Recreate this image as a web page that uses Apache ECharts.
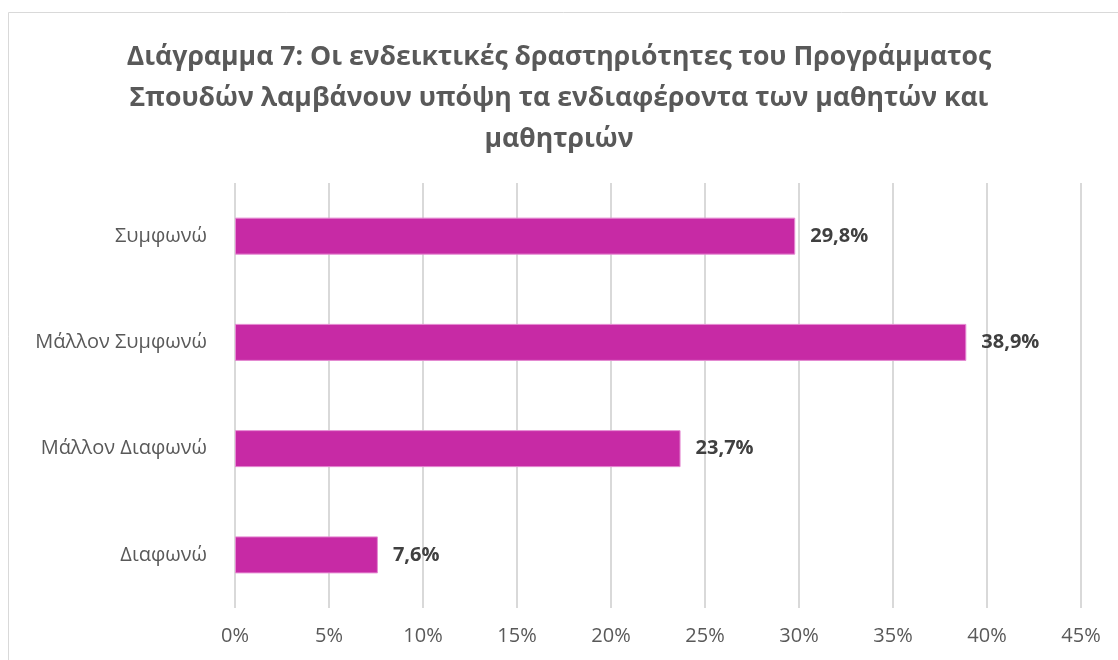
<!DOCTYPE html>
<html><head><meta charset="utf-8">
<script src="https://cdn.jsdelivr.net/npm/echarts@6/dist/echarts.min.js"></script>
<style>html,body{margin:0;padding:0;background:#fff}#c{width:1118px;height:660px}</style>
</head><body><div id="c"></div>
<script>
const titleText = 'Διάγραμμα 7: Οι ενδεικτικές δραστηριότητες του Προγράμματος\nΣπουδών λαμβάνουν υπόψη τα ενδιαφέροντα των μαθητών και\nμαθητριών';
const categories = ['Συμφωνώ', 'Μάλλον Συμφωνώ', 'Μάλλον Διαφωνώ', 'Διαφωνώ'];
const values = [29.8, 38.9, 23.7, 7.6];
const FONT = 'Open Sans';
const chart = echarts.init(document.getElementById('c'));
chart.setOption({
  animation: false,
  graphic: [{type:'rect', shape:{x:8.5,y:12.5,width:1130,height:680}, style:{fill:'none', stroke:'#D9D9D9', lineWidth:1}, silent:true}],
  title: {text: titleText, left: 'center', top: 32,
    textStyle: {fontFamily: FONT, fontWeight: 'bold', fontSize: 26.6, color: '#595959', lineHeight: 41}},
  grid: {left: 235, right: 37, top: 183, bottom: 52, containLabel: false},
  xAxis: {type: 'value', min: 0, max: 45, interval: 5,
    axisLabel: {formatter: '{value}%', fontFamily: FONT, fontSize: 20, color: '#595959', margin: 18},
    splitLine: {lineStyle: {color: '#D9D9D9', width: 2}},
    axisLine: {show: false}, axisTick: {show: false}},
  yAxis: {type: 'category', data: categories, inverse: true,
    axisLabel: {fontFamily: FONT, fontSize: 20, color: '#595959', margin: 28},
    axisLine: {show: false}, axisTick: {show: false}},
  series: [{type: 'bar', data: values, barWidth: 37,
    itemStyle: {color: '#C72AA5', borderColor: '#E58AD2', borderWidth: 1},
    label: {show: true, position: 'right', distance: 15, fontFamily: FONT, fontWeight: 'bold', fontSize: 20, color: '#404040',
      formatter: p => p.value.toFixed(1).replace('.', ',') + '%'}}]
});
</script></body></html>
